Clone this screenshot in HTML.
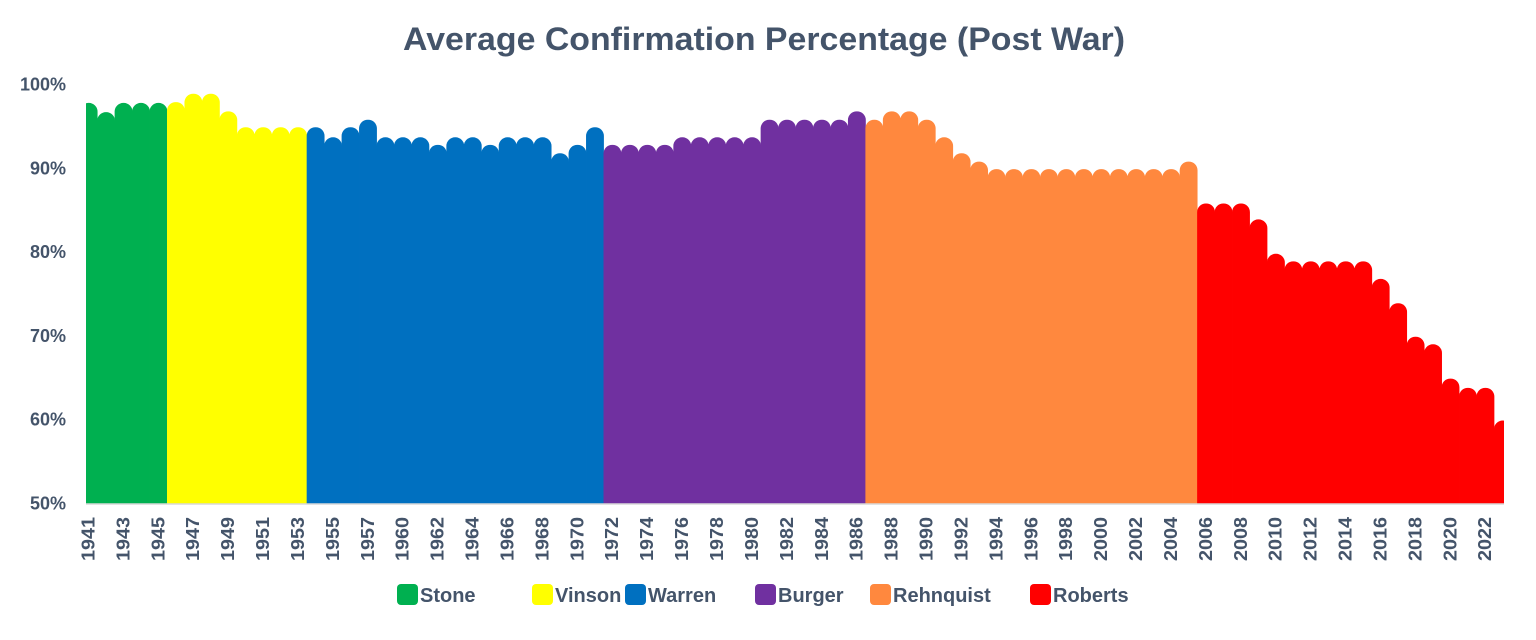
<!DOCTYPE html>
<html><head><meta charset="utf-8">
<style>
html,body{margin:0;padding:0;background:#fff;}
svg{display:block;font-family:"Liberation Sans",sans-serif;}
</style></head>
<body>
<svg id="chart" width="1536" height="640" viewBox="0 0 1536 640" xmlns="http://www.w3.org/2000/svg">
  <rect width="1536" height="640" fill="#fff"/>
  <text x="764" y="50" text-anchor="middle" font-size="32" font-weight="bold" fill="#44546A" textLength="722" lengthAdjust="spacingAndGlyphs">Average Confirmation Percentage (Post War)</text>
  <defs><clipPath id="plotclip"><rect x="86" y="60" width="1418" height="444"/></clipPath></defs>
  <g id="bars" clip-path="url(#plotclip)"></g>
  <line x1="86" y1="504" x2="1504" y2="504" stroke="#D9D9D9" stroke-width="1.5"/>
  <g id="yticks"></g>
  <g id="xticks"></g>
  <g id="legend"></g>
</svg>
<script>
const years = [1941,1942,1943,1944,1945,1946,1947,1948,1949,1950,1951,1952,1953,1954,1955,1956,1957,1958,1960,1961,1962,1963,1964,1965,1966,1967,1968,1969,1970,1971,1972,1973,1974,1975,1976,1977,1978,1979,1980,1981,1982,1983,1984,1985,1986,1987,1988,1989,1990,1991,1992,1993,1994,1995,1996,1997,1998,1999,2000,2001,2002,2003,2004,2005,2006,2007,2008,2009,2010,2011,2012,2013,2014,2015,2016,2017,2018,2019,2020,2021,2022,2023];
const values = [97.8,96.7,97.8,97.8,97.8,
  97.9,98.9,98.9,96.8,94.9,94.9,94.9,94.9,
  94.9,93.7,94.9,95.8,93.7,93.7,93.7,92.8,93.7,93.7,92.8,93.7,93.7,93.7,91.8,92.8,94.9,
  92.8,92.8,92.8,92.8,93.7,93.7,93.7,93.7,93.7,95.8,95.8,95.8,95.8,95.8,96.8,
  95.8,96.8,96.8,95.8,93.7,91.8,90.8,89.9,89.9,89.9,89.9,89.9,89.9,89.9,89.9,89.9,89.9,89.9,90.8,
  85.8,85.8,85.8,83.9,79.8,78.9,78.9,78.9,78.9,78.9,76.8,73.9,69.9,69.0,64.9,63.8,63.8,59.9];
const justices = ["Stone","Vinson","Warren","Burger","Rehnquist","Roberts"];
const justiceStart = [1941,1946,1954,1972,1987,2006];
const justiceColors = ["#00B050","#FFFF00","#0070C0","#7030A0","#FF883E","#FF0000"];
const yTicks = [50,60,70,80,90,100];

const NS="http://www.w3.org/2000/svg";
const X0=79.7, STEP=17.46, Y0=503.5, YMIN=50, YMAX=100, YTOP=84.5;
function xPos(i){return X0+i*STEP;}
function yPos(v){return Y0-(v-YMIN)/(YMAX-YMIN)*(Y0-YTOP);}
function justiceOf(y){let k=0;for(let j=0;j<justiceStart.length;j++){if(y>=justiceStart[j])k=j;}return k;}

const bars=document.getElementById('bars');
values.forEach((v,i)=>{
  const x=xPos(i), w=STEP+0.4, top=yPos(v), r=Math.min(w/2,8.7);
  const p=document.createElementNS(NS,'path');
  const d=`M${x},${Y0} L${x},${top+r} A${r},${r} 0 0 1 ${x+r},${top} L${x+w-r},${top} A${r},${r} 0 0 1 ${x+w},${top+r} L${x+w},${Y0} Z`;
  p.setAttribute('d',d);
  p.setAttribute('fill',justiceColors[justiceOf(years[i])]);
  
  
  bars.appendChild(p);
});

const yt=document.getElementById('yticks');
yTicks.forEach(t=>{
  const tx=document.createElementNS(NS,'text');
  tx.setAttribute('x',66);tx.setAttribute('y',yPos(t)+6);
  tx.setAttribute('text-anchor','end');tx.setAttribute('font-size','18');
  tx.setAttribute('font-weight','bold');tx.setAttribute('fill','#44546A');
  tx.textContent=t+'%';
  
  
  yt.appendChild(tx);
});

const xt=document.getElementById('xticks');
years.forEach((y,i)=>{
  if(i%2!==0)return;
  const cx=xPos(i)+STEP/2+6;
  const tx=document.createElementNS(NS,'text');
  tx.setAttribute('transform',`translate(${cx},517) rotate(-90)`);
  tx.setAttribute('text-anchor','end');tx.setAttribute('font-size','18');
  tx.setAttribute('font-weight','bold');tx.setAttribute('fill','#44546A');
  tx.setAttribute('textLength','44');tx.setAttribute('lengthAdjust','spacingAndGlyphs');
  tx.textContent=y;
  
  
  xt.appendChild(tx);
});

const legendX=[397,532,625,755,870,1030];
const legendW=[62,50,80,74,112,80];
const lg=document.getElementById('legend');
justices.forEach((n,j)=>{
  const g=document.createElementNS(NS,'g');
  
  
  const r=document.createElementNS(NS,'rect');
  r.setAttribute('x',legendX[j]);r.setAttribute('y',584);r.setAttribute('width',21);r.setAttribute('height',21);
  r.setAttribute('rx',4);r.setAttribute('fill',justiceColors[j]);
  
  
  const t=document.createElementNS(NS,'text');
  t.setAttribute('x',legendX[j]+23);t.setAttribute('y',602);
  t.setAttribute('font-size','20');t.setAttribute('font-weight','bold');t.setAttribute('fill','#44546A');
  t.textContent=n;
  
  
  g.appendChild(r);g.appendChild(t);lg.appendChild(g);
});
</script>
</body></html>
